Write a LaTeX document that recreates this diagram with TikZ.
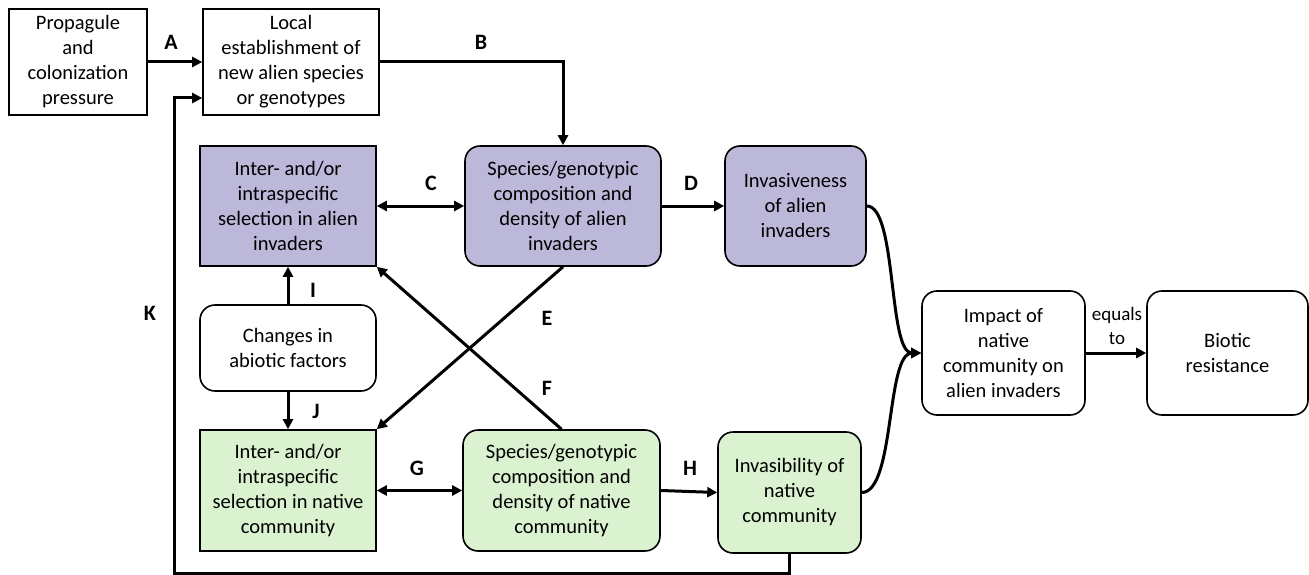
\documentclass[tikz,border=0pt]{standalone}
\usepackage{fontspec}
\setmainfont{Carlito}
\usetikzlibrary{arrows.meta}
\definecolor{alien}{HTML}{BBB8DA}
\definecolor{native}{HTML}{DAF2D0}
\begin{document}
\begin{tikzpicture}[x=1pt,y=-1pt,
  box/.style={draw, line width=1.6pt, align=center, inner sep=0pt, font=\fontsize{20.5}{25}\selectfont},
  rbox/.style={box, rounded corners=15pt},
  arr/.style={line width=3pt, -{Triangle[length=10pt,width=10pt]}},
  darr/.style={line width=3pt, {Triangle[length=10pt,width=10pt]}-{Triangle[length=10pt,width=10pt]}},
  lab/.style={font=\fontsize{22}{24}\selectfont\bfseries}]
\useasboundingbox (0,0) rectangle (1309,575);
\node[box, minimum width=138pt, minimum height=106pt] (p) at (78,62) {Propagule\\and\\colonization\\pressure};
\node[box, minimum width=176pt, minimum height=106pt] (loc) at (291,62) {Local\\establishment of\\new alien species\\or genotypes};
\node[box, fill=alien, minimum width=176pt, minimum height=120pt] (as) at (288,206) {Inter- and/or\\intraspecific\\selection in alien\\invaders};
\node[rbox, fill=alien, minimum width=196pt, minimum height=120pt] (sa) at (563,206) {Species/genotypic\\composition and\\density of alien\\invaders};
\node[rbox, fill=alien, minimum width=141pt, minimum height=120pt] (inv) at (795.5,206) {Invasiveness\\of alien\\invaders};
\node[rbox, minimum width=176pt, minimum height=86pt] (ab) at (288,348) {Changes in\\abiotic factors};
\node[box, fill=native, minimum width=176pt, minimum height=121pt] (ns) at (288,490.5) {Inter- and/or\\intraspecific\\selection in native\\community};
\node[rbox, fill=native, minimum width=197pt, minimum height=121pt] (sn) at (561.5,490.5) {Species/genotypic\\composition and\\density of native\\community};
\node[rbox, fill=native, minimum width=143pt, minimum height=121pt] (ib) at (789.5,492.5) {Invasibility of\\native\\community};
\node[rbox, minimum width=163pt, minimum height=124pt] (imp) at (1003.5,353) {Impact of\\native\\community on\\alien invaders};
\node[rbox, minimum width=161pt, minimum height=124pt] (bio) at (1227.5,353) {Biotic\\resistance};
% connectors
\draw[arr] (p.east) -- (loc.west);
\draw[arr] (loc.east) -| (sa.north);
\draw[darr] (as.east) -- (sa.west);
\draw[arr] (sa.east) -- (inv.west);
\draw[arr] (ab.north) -- (as.south);
\draw[arr] (ab.south) -- (ns.north);
\draw[arr] (sa.south) -- (ns.north east);
\draw[arr] (sn.north) -- (as.south east);
\draw[darr] (ns.east) -- (sn.west);
\draw[arr] (sn.east) -- (ib.west);
\draw[arr] (imp.east) -- (bio.west);
\draw[arr] (inv.east) .. controls (897,206) and (888,353) .. (imp.west);
\draw[arr] (ib.east) .. controls (895,492) and (886,353) .. (imp.west);
\coordinate (kb) at (174,573);
\draw[arr] (ib.south) |- (kb) |- ([yshift=-36pt]loc.west);
% labels
\node[lab] (lA) at (171,42) {A};
\node[lab] (lB) at (481,42) {B};
\node[lab] (lC) at (431,183) {C};
\node[lab] (lD) at (691,183) {D};
\node[lab] (lE) at (547,318) {E};
\node[lab] (lF) at (547,388) {F};
\node[lab] (lG) at (417,468) {G};
\node[lab] (lH) at (690,468) {H};
\node[lab] (lI) at (313,290) {I};
\node[lab] (lJ) at (316,411) {J};
\node[lab] (lK) at (150,313) {K};
\node[align=center, inner sep=0pt, font=\fontsize{19}{24}\selectfont] (eq) at (1117,326) {equals\\to};
\end{tikzpicture}
\end{document}
